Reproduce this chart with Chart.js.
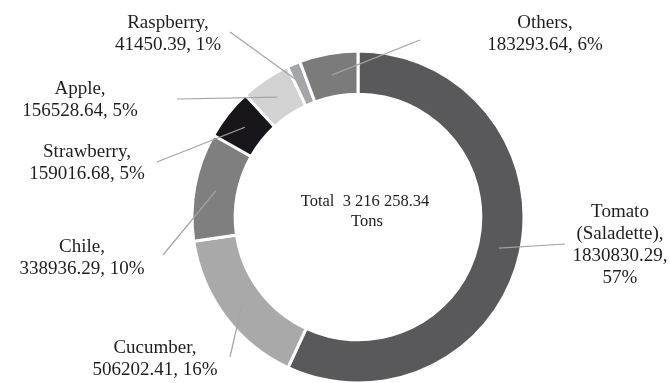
<!DOCTYPE html>
<html>
<head>
<meta charset="utf-8">
<script src="https://cdn.jsdelivr.net/npm/chart.js@4/dist/chart.umd.min.js"></script>
<style>
	html, body { margin: 0; padding: 0; background: #fff; }
	#wrap { width: 670px; height: 383px; }
</style>
</head>
<body>
<div id="wrap"><canvas id="canvas0" width="670" height="383"></canvas></div>
<script>
// Production by crop, tons (clockwise from the top)
var crops = ['Tomato (Saladette)', 'Cucumber', 'Chile', 'Strawberry', 'Apple', 'Raspberry', 'Others'];
var tons = [1830830.29, 506202.41, 338936.29, 159016.68, 156528.64, 41450.39, 183293.64];
var percents = [57, 16, 10, 5, 5, 1, 6];
var shades = ['#59595b', '#a9a9a9', '#7f7f7f', '#18151b', '#d2d2d2', '#a3a6a9', '#7b7b7b'];
var totalUnit = 'Tons';

// Where each label block sits and where its leader line ends
var labelLayout = [
	{ x: 620, y: 212, lineX: 565, lineY: 244, stacked: true },
	{ x: 155, y: 348, lineX: 230, lineY: 357 },
	{ x: 82, y: 247, lineX: 163, lineY: 255 },
	{ x: 87, y: 152, lineX: 157, lineY: 162 },
	{ x: 80, y: 89, lineX: 177, lineY: 99 },
	{ x: 168, y: 23, lineX: 230, lineY: 32 },
	{ x: 545, y: 23, lineX: 420, lineY: 40 }
];

function labelLines(i) {
	let value = tons[i].toFixed(2);
	if(labelLayout[i].stacked) {
		let words = crops[i].split(' ');
		words[words.length - 1] += ',';
		return words.concat([value + ',', percents[i] + '%']);
	}
	return [crops[i] + ',', value + ', ' + percents[i] + '%'];
}

function formatTotal(v) {
	let parts = v.toFixed(2).split('.');
	return parts[0].replace(/\B(?=(\d{3})+(?!\d))/g, ' ') + '.' + parts[1];
}

// Draws leader lines, category labels and the total in the hole
var calloutPlugin = {
	id: 'callouts',
	afterDraw: function(chart) {
		let ctx = chart.ctx;
		let meta = chart.getDatasetMeta(0);
		ctx.save();
		ctx.strokeStyle = '#a4a4a4';
		ctx.lineWidth = 1.2;
		meta.data.forEach((arc, i) => {
			let c = arc.getCenterPoint();
			ctx.beginPath();
			ctx.moveTo(c.x, c.y);
			ctx.lineTo(labelLayout[i].lineX, labelLayout[i].lineY);
			ctx.stroke();
		});
		ctx.fillStyle = '#1e1e1e';
		ctx.textAlign = 'center';
		ctx.textBaseline = 'middle';
		ctx.font = '19px "Liberation Serif", "Times New Roman", serif';
		meta.data.forEach((arc, i) => {
			let lines = labelLines(i);
			lines.forEach((line, k) => {
				ctx.fillText(line, labelLayout[i].x, labelLayout[i].y + k * 22);
			});
		});
		// Total in the centre of the ring
		let total = tons.reduce((a, b) => a + b, 0);
		let cx = (chart.chartArea.left + chart.chartArea.right) / 2;
		let cy = (chart.chartArea.top + chart.chartArea.bottom) / 2;
		ctx.font = '16.5px "Liberation Serif", "Times New Roman", serif';
		ctx.fillText('Total  ' + formatTotal(total), cx + 7, cy - 15);
		ctx.fillText(totalUnit, cx + 9, cy + 5);
		ctx.restore();
	}
};

var ctx = document.getElementById('canvas0').getContext('2d');
var chart = new Chart(ctx, {
	type: 'doughnut',
	data: {
		labels: crops,
		datasets: [{
			data: tons,
			backgroundColor: shades,
			borderColor: '#ffffff',
			borderWidth: 3
		}]
	},
	options: {
		responsive: false,
		animation: false,
		radius: 166,
		cutout: 121,
		layout: {
			padding: { left: 46, top: 52, right: 0, bottom: 1 }
		},
		plugins: {
			legend: { display: false },
			tooltip: { enabled: false }
		}
	},
	plugins: [calloutPlugin]
});
</script>
</body>
</html>
